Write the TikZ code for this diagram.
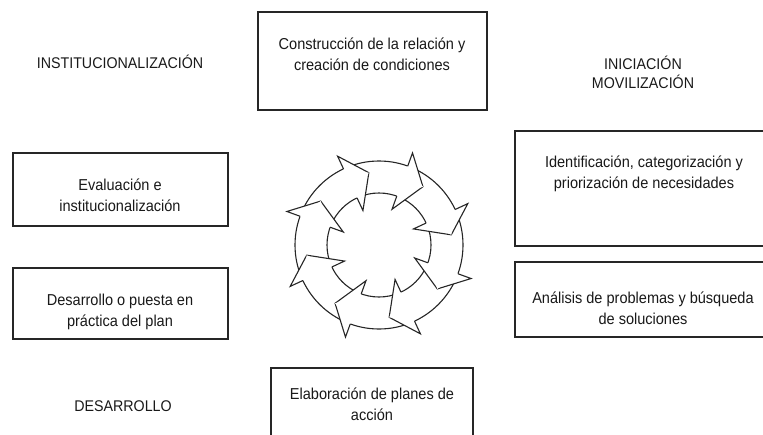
\documentclass[tikz,border=0pt]{standalone}
\usepackage{fontspec}
\setmainfont[FakeStretch=0.92]{Liberation Sans}
\usetikzlibrary{calc}
\tikzset{
  box/.style={draw=black!85, line width=1.1pt, fill=white, inner sep=0pt},
  boxtext/.style={text=black!90, align=center, inner sep=0pt, font=\fontsize{15.8}{21}\selectfont},
  phase/.style={text=black!90, align=center, inner sep=0pt, font=\fontsize{15.5}{19}\selectfont},
  ring/.style={draw=black!85, line width=1.1pt},
  head/.style={draw=black!85, line width=1.1pt, fill=white, line join=miter}
}
\begin{document}
\begin{tikzpicture}[x=1pt,y=-1pt]
\useasboundingbox (0,0) rectangle (763,434);
\begin{scope}
\clip (0,0) rectangle (763,434);
% boxes
\node[box, minimum width=229pt, minimum height=98pt] (btop) at (372.5,61) {};
\node[box, minimum width=260pt, minimum height=115pt] (bri1) at (645,188.5) {};
\node[box, minimum width=260pt, minimum height=75pt] (bri2) at (645,299.5) {};
\node[box, minimum width=215pt, minimum height=73pt] (ble1) at (120.5,189.5) {};
\node[box, minimum width=215pt, minimum height=71pt] (ble2) at (120.5,303.5) {};
\node[box, minimum width=202pt, minimum height=77pt] (bbot) at (372,406.5) {};
\end{scope}
% box texts
\node[boxtext] (ttop) at (372,54) {Construcción de la relación y\\creación de condiciones};
\node[boxtext] (tri1) at (644,174) {Identificación, categorización y\\priorización de necesidades};
\node[boxtext] (tri2) at (643,308) {Análisis de problemas y búsqueda\\de soluciones};
\node[boxtext] (tle1) at (120,195) {Evaluación e\\institucionalización};
\node[boxtext] (tle2) at (120,312) {Desarrollo o puesta en\\práctica del plan};
\node[boxtext] (tbot) at (372,404) {Elaboración de planes de\\acción};
% phase labels
\node[phase] (pinst) at (120,62) {INSTITUCIONALIZACIÓN};
\node[phase] (pini) at (643,72.5) {INICIACIÓN\\MOVILIZACIÓN};
\node[phase] (pdes) at (123,406) {DESARROLLO};
% circular arrows
\coordinate (c) at (379,245);
\draw[ring] (c) circle[radius=84pt];
\draw[ring] (c) circle[radius=52pt];
\foreach \b in {115,70,25,-20,-65,-110,-155,-200}{
  \pgfmathsetmacro{\t}{\b-17}
  \filldraw[head]
    ($(c)+({52*cos(\b)},{-52*sin(\b)})$) --
    ($(c)+({38*cos(\b)},{-38*sin(\b)})$) --
    ($(c)+({73*cos(\t)},{-73*sin(\t)})$) --
    ($(c)+({98*cos(\b)},{-98*sin(\b)})$) --
    ($(c)+({84*cos(\b)},{-84*sin(\b)})$);
  \fill[white]
    ($(c)+({52.6*cos(\b)},{-52.6*sin(\b)})$) --
    ($(c)+({73*cos(\t)},{-73*sin(\t)})$) --
    ($(c)+({83.4*cos(\b)},{-83.4*sin(\b)})$) -- cycle;
}
\end{tikzpicture}
\end{document}
